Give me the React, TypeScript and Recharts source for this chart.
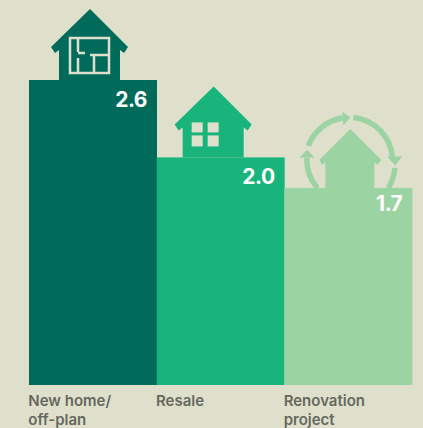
import { BarChart, Bar, XAxis, YAxis, LabelList } from 'recharts';

const categories = ['New home/\noff-plan', 'Resale', 'Renovation\nproject'];
// bar heights as measured, the printed figures are rounded
const barValues = [2.6, 1.94, 1.68];
const valueLabels = ['2.6', '2.0', '1.7'];
const barColors = ['#006a5b', '#19b37c', '#9cd3a2'];

const BG = '#dfe0cb';
const FONT = 'Inter, sans-serif';

const data = categories.map((name, i) => ({ name, value: barValues[i], label: valueLabels[i] }));

function FloorPlan() {
  return (
    <g fill="none" stroke={BG} strokeWidth={2.5}>
      <rect x={41} y={-42} width={39} height={35} />
      <path d="M49 -42V-28M49 -22V-7M49 -27H56M61 -25H80M65 -25V-7" />
    </g>
  );
}

function Windows() {
  return (
    <g fill={BG}>
      <rect x={35} y={-35} width={11} height={10} />
      <rect x={51} y={-35} width={11} height={10} />
      <rect x={35} y={-22} width={11} height={11} />
      <rect x={51} y={-22} width={11} height={11} />
    </g>
  );
}

function Ring({ color }: { color: string }) {
  return (
    <g>
      <g fill="none" stroke={color} strokeWidth={5.500}>
        <path d="M24 -42A43.5 43.5 0 0 1 58 -70" />
        <path d="M69 -70.500A43.500 43.500 0 0 1 108 -31" />
        <path d="M110.500 -20A43.500 43.500 0 0 1 104 0" />
        <path d="M22.500 -30A43.500 43.500 0 0 0 33 0" />
      </g>
      <g fill={color}>
        <path d="M66 -70.500L57.700 -76.300L59 -62.300Z" />
        <path d="M102.700 -31.300L117.700 -31.300L111 -22.300Z" />
        <path d="M22.700 -38L15 -30.300L30.300 -30.300Z" />
      </g>
    </g>
  );
}

const housePaths = [
  'M61 -71L99 -33L95 -27L91 -30V0H30V-30L26 -27L22 -33Z',
  'M57 -71L95 -33L91 -27L87 -30V0H26V-30L22 -27L18 -33Z',
  'M66 -59L97 -28L93 -23L90 -26V0H41V-26L38 -23L35 -28Z',
];

function HouseBar(props: any) {
  const { x, y, width, height, index } = props;
  const color = barColors[index];
  return (
    <g>
      <rect x={x} y={y} width={width} height={height} fill={color} />
      <g transform={`translate(${x},${y})`}>
        {index === 2 && <Ring color={color} />}
        <path d={housePaths[index]} fill={color} />
        {index === 0 && <FloorPlan />}
        {index === 1 && <Windows />}
      </g>
    </g>
  );
}

function CategoryTick(props: any) {
  const { x, y, payload } = props;
  return (
    <text x={x - 64.500} y={y + 15} fontFamily={FONT} fontSize={15} fontWeight={600} fill="#666860">
      {String(payload.value).split('\n').map((line, i) => (
        <tspan key={i} x={x - 64.500} dy={i === 0 ? 0 : 19}>{line}</tspan>
      ))}
    </text>
  );
}

function ValueLabel(props: any) {
  const { x, y, width, index } = props;
  return (
    <text
      x={x + width - 10}
      y={y + (index === 2 ? 23 : 27)}
      textAnchor="end"
      fontFamily={FONT}
      fontSize={21}
      fontWeight={700}
      letterSpacing={-0.5}
      fill="#ffffff"
    >
      {valueLabels[index]}
    </text>
  );
}

export default function App() {
  return (
    <div style={{ width: 423, height: 428, background: BG, overflow: 'hidden' }}>
      <style>{`html,body{margin:0;background:${BG}}`}</style>
      <BarChart
        width={423}
        height={428}
        data={data}
        margin={{ top: 80, right: 11, bottom: 0, left: 29 }}
        barCategoryGap={0}
      >
        <YAxis hide domain={[0, 2.6]} />
        <XAxis
          dataKey="name"
          height={43}
          axisLine={false}
          tickLine={false}
          interval={0}
          tick={<CategoryTick />}
          tickMargin={0}
        />
        <Bar dataKey="value" isAnimationActive={false} shape={<HouseBar />}>
          <LabelList dataKey="label" content={<ValueLabel />} />
        </Bar>
      </BarChart>
    </div>
  );
}
